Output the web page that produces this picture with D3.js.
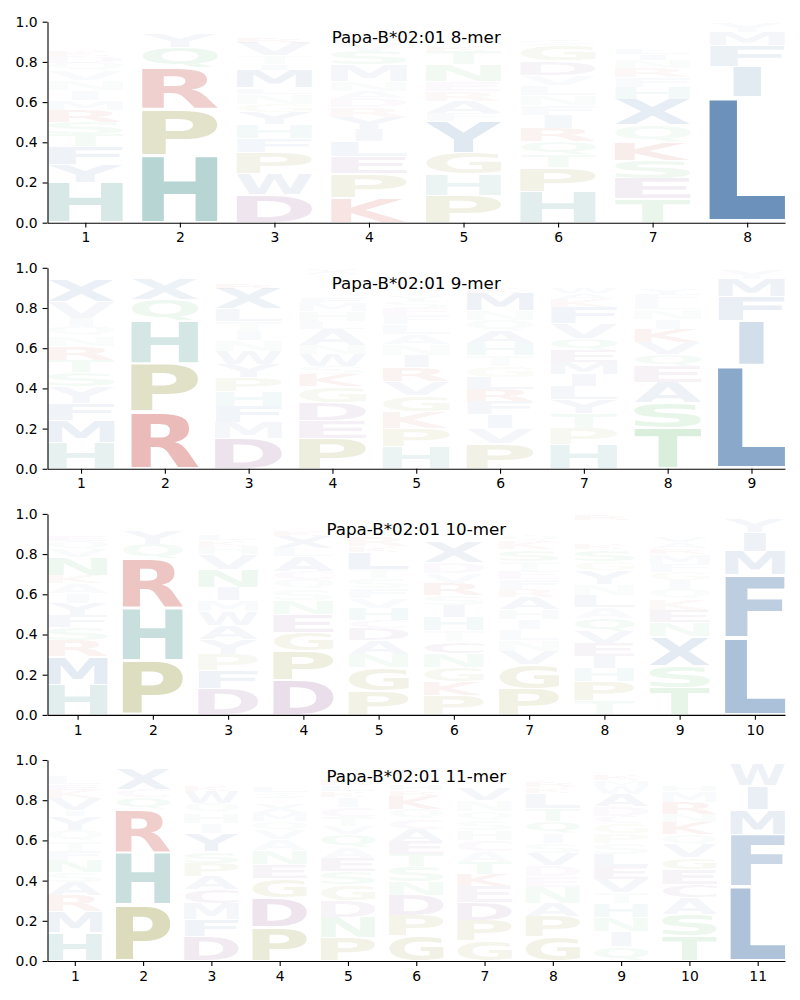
<!DOCTYPE html>
<html><head><meta charset="utf-8">
<script src="https://cdn.jsdelivr.net/npm/d3@7"></script>
<style>body{margin:0;background:#fff}</style></head>
<body><svg id="chart" width="800" height="1000"></svg>
<script>
const titles = ["Papa-B*02:01 8-mer","Papa-B*02:01 9-mer","Papa-B*02:01 10-mer","Papa-B*02:01 11-mer"];
const yTicks = [0,0.2,0.4,0.6,0.8,1.0];

// letter stacks per position, listed bottom to top: [letter, height]
const logo8 = [
 [["H",.20],["Y",.09],["F",.09],["T",.06],["S",.06],["R",.06],["M",.05],["I",.05],["N",.05],["V",.045],["Q",.04],["D",.035],["K",.03],["E",.025],["A",.025],["L",.02],["C",.02],["W",.015],["G",.015],["P",.01]],
 [["H",.335],["P",.23],["R",.205],["Q",.10],["Y",.065],["F",.015],["K",.012],["L",.01],["S",.008],["M",.006],["A",.005],["E",.004],["N",.003]],
 [["D",.14],["W",.105],["P",.105],["F",.07],["H",.07],["Y",.06],["G",.04],["N",.05],["L",.03],["M",.09],["I",.03],["T",.04],["V",.065],["R",.03],["K",.02],["A",.02],["E",.015],["Q",.01],["S",.01]],
 [["K",.125],["P",.12],["E",.085],["L",.075],["I",.06],["Y",.06],["R",.05],["D",.045],["A",.035],["N",.05],["M",.08],["S",.07],["V",.04],["F",.03],["Q",.02],["T",.02],["G",.015],["H",.01],["W",.01]],
 [["P",.135],["H",.105],["G",.105],["Y",.16],["F",.04],["A",.06],["R",.05],["E",.05],["N",.08],["T",.07],["K",.03],["V",.025],["S",.02],["M",.02],["L",.015],["D",.015],["Q",.01],["I",.01]],
 [["H",.155],["P",.12],["T",.065],["Q",.065],["R",.065],["I",.065],["F",.05],["N",.05],["L",.05],["V",.05],["D",.07],["G",.08],["S",.03],["K",.02],["Y",.02],["A",.015],["M",.015],["E",.01],["W",.01]],
 [["T",.12],["E",.10],["S",.09],["K",.09],["Q",.085],["X",.13],["H",.06],["F",.05],["R",.045],["N",.04],["I",.03],["L",.03],["A",.02],["V",.02],["G",.02],["D",.015],["M",.015],["P",.01],["Y",.01],["W",.01],["C",.01]],
 [["L",.625],["I",.15],["F",.105],["M",.065],["Y",.045],["W",.01]]
];
const logo9 = [
 [["H",.13],["M",.11],["F",.085],["Y",.085],["S",.07],["T",.06],["R",.07],["N",.05],["Q",.05],["I",.04],["V",.08],["X",.11],["K",.02],["A",.015],["L",.01],["E",.01]],
 [["R",.285],["P",.24],["H",.21],["Q",.105],["X",.10],["Y",.02],["K",.015],["F",.01],["L",.008],["S",.007]],
 [["D",.15],["M",.08],["F",.08],["H",.075],["P",.07],["Y",.065],["W",.065],["N",.055],["I",.045],["T",.05],["L",.06],["X",.10],["R",.03],["K",.02],["A",.02],["E",.015],["G",.01],["V",.01]],
 [["P",.15],["E",.09],["D",.09],["G",.08],["K",.06],["S",.04],["W",.06],["N",.045],["A",.08],["L",.04],["H",.05],["M",.04],["F",.03],["I",.025],["R",.02],["V",.02],["Q",.015],["T",.01],["Y",.01],["C",.015],["X",.03]],
 [["H",.11],["P",.09],["K",.085],["G",.08],["V",.07],["R",.07],["I",.06],["N",.055],["A",.05],["L",.05],["F",.04],["E",.04],["S",.035],["Y",.03],["T",.03],["D",.025],["Q",.02],["M",.02],["W",.015],["C",.01]],
 [["P",.125],["V",.075],["I",.07],["F",.065],["R",.06],["L",.06],["G",.055],["T",.055],["H",.06],["A",.06],["Q",.055],["N",.045],["M",.09],["K",.03],["E",.025],["Y",.02],["S",.02],["D",.015],["W",.01]],
 [["H",.12],["P",.08],["T",.075],["Y",.07],["L",.065],["I",.06],["M",.06],["E",.06],["Q",.06],["V",.075],["F",.08],["K",.04],["A",.03],["W",.03],["N",.02],["R",.02],["S",.015],["D",.01],["G",.01],["C",.01],["X",.01]],
 [["T",.20],["S",.13],["A",.10],["E",.08],["Q",.06],["V",.06],["K",.065],["I",.05],["N",.05],["L",.04],["F",.035],["Y",.03],["G",.025],["M",.02],["R",.02],["H",.015],["D",.01],["P",.01]],
 [["L",.515],["I",.22],["F",.12],["M",.09],["Y",.045],["W",.01]]
];
const logo10 = [
 [["H",.15],["M",.14],["R",.08],["S",.065],["F",.06],["Y",.06],["I",.05],["A",.05],["K",.04],["N",.09],["V",.04],["Q",.04],["E",.03],["T",.025],["L",.02],["D",.02],["G",.015],["P",.01],["W",.01]],
 [["P",.27],["H",.26],["R",.245],["Q",.075],["Y",.07],["F",.02],["K",.015],["L",.01],["S",.01],["A",.008],["M",.007],["E",.005]],
 [["D",.13],["F",.09],["P",.08],["Y",.075],["A",.07],["W",.07],["M",.055],["I",.065],["N",.09],["V",.075],["H",.04],["K",.03],["L",.03],["T",.025],["R",.02],["Q",.02],["E",.015],["S",.01],["G",.01]],
 [["D",.175],["P",.145],["G",.09],["E",.09],["N",.07],["S",.055],["Q",.05],["C",.04],["A",.075],["L",.04],["X",.06],["K",.03],["V",.02],["M",.02],["F",.015],["T",.01],["H",.01],["R",.005]],
 [["P",.12],["G",.115],["N",.065],["A",.07],["D",.06],["C",.04],["H",.06],["V",.05],["F",.05],["S",.05],["T",.045],["L",.085],["K",.03],["R",.05],["Q",.03],["E",.02],["I",.02],["Y",.015],["M",.01],["W",.01]],
 [["P",.095],["K",.07],["G",.07],["N",.07],["C",.06],["T",.055],["H",.065],["I",.06],["S",.05],["R",.06],["V",.05],["D",.055],["X",.10],["E",.02],["Q",.02],["A",.02],["F",.01],["M",.02],["Y",.02],["W",.02]],
 [["P",.13],["G",.12],["V",.065],["N",.055],["L",.055],["I",.05],["H",.05],["A",.06],["R",.04],["F",.05],["E",.04],["T",.05],["S",.06],["K",.04],["Q",.03],["D",.02],["M",.015],["Y",.01],["W",.01],["C",.02],["X",.02]],
 [["T",.07],["P",.095],["H",.065],["I",.06],["E",.065],["V",.06],["Q",.065],["A",.055],["L",.06],["N",.055],["Y",.07],["G",.045],["S",.06],["K",.03],["M",.025],["F",.02],["D",.02],["W",.015],["C",.01],["X",.025],["R",.03]],
 [["T",.135],["S",.11],["X",.145],["N",.07],["E",.06],["K",.055],["Q",.05],["I",.045],["G",.04],["F",.04],["M",.05],["R",.03],["A",.03],["V",.03],["L",.025],["H",.02],["Y",.02],["D",.015],["C",.01],["W",.01]],
 [["L",.385],["F",.31],["M",.12],["I",.095],["Y",.07],["W",.01],["V",.01]]
];
const logo11 = [
 [["H",.14],["M",.105],["R",.08],["A",.065],["S",.05],["N",.06],["F",.045],["T",.05],["Q",.055],["Y",.07],["I",.03],["V",.06],["K",.04],["E",.03],["L",.04],["D",.02],["G",.02],["C",.01],["W",.01],["P",.01]],
 [["P",.28],["H",.26],["R",.215],["Q",.06],["C",.04],["X",.10],["Y",.015],["K",.01],["F",.01],["L",.005],["S",.005]],
 [["D",.12],["F",.085],["M",.08],["C",.07],["A",.065],["P",.065],["S",.06],["Y",.09],["I",.05],["H",.05],["Q",.05],["W",.06],["K",.03],["L",.025],["E",.02],["R",.02],["G",.02],["N",.015],["V",.01],["T",.01]],
 [["P",.168],["D",.147],["G",.095],["E",.07],["N",.07],["A",.055],["V",.045],["Q",.045],["M",.04],["X",.05],["K",.025],["S",.03],["L",.03],["F",.025],["I",.02],["H",.02],["R",.02],["T",.015],["Y",.01],["C",.01],["W",.01]],
 [["P",.115],["N",.10],["D",.085],["G",.08],["S",.065],["E",.065],["A",.055],["Q",.065],["V",.04],["T",.045],["C",.05],["I",.05],["K",.03],["L",.03],["R",.03],["F",.02],["H",.02],["M",.02],["Y",.01],["W",.01]],
 [["G",.125],["P",.10],["D",.10],["N",.07],["S",.075],["T",.06],["E",.065],["A",.06],["C",.05],["Q",.05],["K",.065],["R",.03],["H",.03],["L",.025],["I",.02],["V",.02],["F",.015],["M",.015],["Y",.01],["W",.01]],
 [["G",.10],["P",.10],["D",.09],["E",.08],["K",.06],["T",.06],["A",.055],["C",.055],["H",.05],["S",.05],["Q",.045],["N",.055],["V",.06],["R",.025],["L",.02],["I",.02],["F",.02],["M",.015],["Y",.01],["W",.01]],
 [["G",.12],["P",.10],["A",.065],["N",.08],["E",.055],["D",.055],["V",.06],["S",.05],["I",.05],["Q",.06],["T",.065],["L",.075],["K",.03],["R",.03],["H",.02],["M",.02],["F",.02],["Y",.015],["C",.01],["W",.01]],
 [["Q",.07],["I",.075],["N",.07],["H",.07],["T",.055],["V",.065],["E",.065],["L",.06],["S",.055],["P",.05],["G",.05],["C",.035],["D",.05],["A",.06],["W",.04],["M",.03],["K",.03],["R",.02],["F",.02],["Y",.02]],
 [["T",.125],["S",.105],["A",.085],["C",.065],["E",.075],["G",.06],["V",.065],["Q",.05],["K",.06],["N",.04],["R",.06],["M",.055],["H",.03],["L",.025],["I",.02],["F",.02],["D",.015],["Y",.01],["P",.01],["W",.01]],
 [["L",.37],["F",.26],["M",.125],["I",.115],["W",.11],["Y",.01]]
];
const panels = [logo8, logo9, logo10, logo11];

const groupColors = {hydrophobic:"#517eb0", histidine:"#4e9994", special:"#96963c", basic:"#c0372f", acidic:"#8e5592", polar:"#5ab661"};
const letterGroup = {A:"hydrophobic",V:"hydrophobic",L:"hydrophobic",I:"hydrophobic",M:"hydrophobic",F:"hydrophobic",W:"hydrophobic",Y:"hydrophobic",X:"hydrophobic",
  H:"histidine",P:"special",G:"special",R:"basic",K:"basic",D:"acidic",E:"acidic",C:"acidic",S:"polar",T:"polar",N:"polar",Q:"polar"};

const svg = d3.select("#chart");
const FONT = "'DejaVu Sans'";
const FS = 200;
const ctx = document.createElement("canvas").getContext("2d");
ctx.font = `bold ${FS}px ${FONT}`;
const metrics = {};
function glyph(l){
  if(!metrics[l]){
    const m = ctx.measureText(l);
    metrics[l] = {L:m.actualBoundingBoxLeft, R:m.actualBoundingBoxRight, A:m.actualBoundingBoxAscent, D:m.actualBoundingBoxDescent};
  }
  return metrics[l];
}
const refE = glyph("E");
const refEW = refE.L + refE.R;
const alphaOf = h => Math.min(1, 1.45*Math.pow(h, 1.15));

const x0 = 47.5, x1 = 785, plotH = 201, top0 = 21.7, step = 246.1;

panels.forEach((cols, pi) => {
  const n = cols.length;
  const top = top0 + pi*step;
  const x = d3.scaleLinear().domain([0.6, n + 0.4]).range([x0, x1]);
  const y = d3.scaleLinear().domain([0, 1]).range([top + plotH, top]);
  const g = svg.append("g");

  cols.forEach((stack, ci) => {
    const pos = ci + 1;
    let cum = 0;
    stack.forEach(([l, h]) => {
      const yb = cum, yt = cum + h; cum = yt;
      const pad = h*0.03;
      const Xb = x(pos - 0.4), Wb = x(pos + 0.4) - Xb;
      const Y = y(yt - pad), H = y(yb + pad) - Y;
      if (H <= 0.05) return;
      const m = glyph(l);
      const inkW = m.L + m.R;
      const sx = Math.min(Wb/inkW, Wb/refEW);
      const W = inkW*sx, X = Xb + (Wb - W)/2;
      const sy = H/(m.A + m.D);
      g.append("text")
        .attr("x", 0).attr("y", 0)
        .attr("font-family", FONT).attr("font-weight", "bold").attr("font-size", FS)
        .attr("fill", groupColors[letterGroup[l]])
        .attr("fill-opacity", alphaOf(h))
        .attr("transform", `translate(${X + m.L*sx},${Y + m.A*sy}) scale(${sx},${sy})`)
        .text(l);
    });
  });

  const xa = g.append("g").attr("transform", `translate(0,${top + plotH})`)
    .call(d3.axisBottom(x).tickValues(d3.range(1, n + 1)).tickFormat(d3.format("d")).tickSize(4.9).tickPadding(4.9).tickSizeOuter(0));
  const ya = g.append("g").attr("transform", `translate(${x0},0)`)
    .call(d3.axisLeft(y).tickValues(yTicks).tickFormat(d3.format(".1f")).tickSize(4.9).tickPadding(4.9).tickSizeOuter(0));
  [xa, ya].forEach(a => {
    a.selectAll("text").attr("font-family", FONT).attr("font-size", 13.9).attr("fill", "#000");
    a.selectAll("line").attr("stroke", "#000").attr("stroke-width", 1.1);
    a.select(".domain").attr("stroke", "#000").attr("stroke-width", 1.1);
  });

  g.append("text")
    .attr("x", (x0 + x1)/2).attr("y", top + 15.5)
    .attr("text-anchor", "middle").attr("dominant-baseline", "central")
    .attr("font-family", FONT).attr("font-size", 16.7).attr("fill", "#000")
    .text(titles[pi]);
});
</script></body></html>
